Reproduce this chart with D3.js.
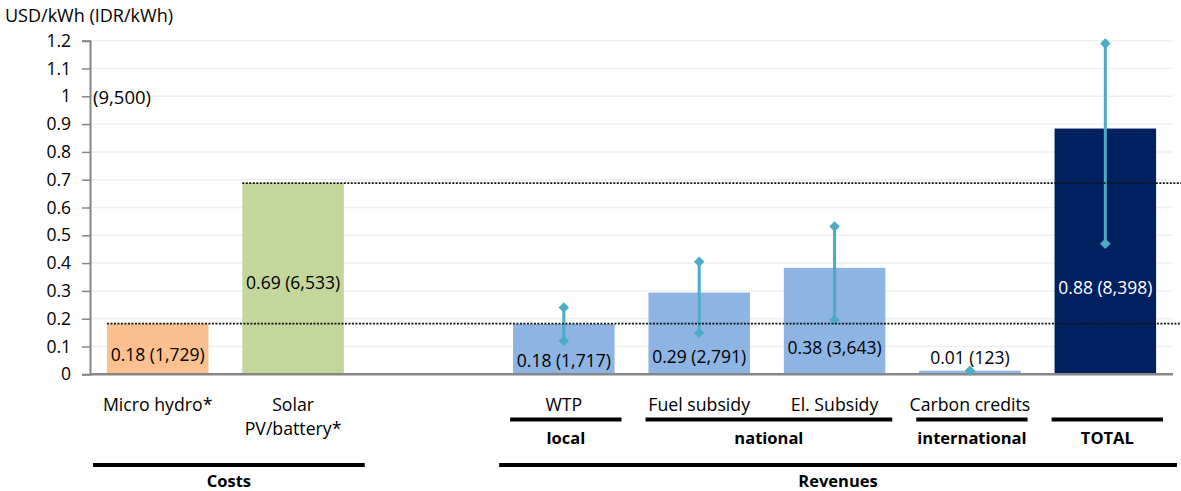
<!DOCTYPE html>
<html>
<head>
<meta charset="utf-8">
<script src="https://cdn.jsdelivr.net/npm/d3@7"></script>
<style>
  html, body { margin: 0; padding: 0; background: #fff; }
  svg { display: block; font-family: "Open Sans", "Lato", sans-serif; }
</style>
</head>
<body>
<svg id="chart" width="1181" height="491"></svg>
<script>
// ---- data ----
const categories = ["Micro hydro*", "Solar PV/battery*", "gap", "WTP", "Fuel subsidy", "El. Subsidy", "Carbon credits", "TOTAL"];
const categoryLabels = [["Micro hydro*"], ["Solar", "PV/battery*"], [], ["WTP"], ["Fuel subsidy"], ["El. Subsidy"], ["Carbon credits"], []];
const valuesUSD = [0.182, 0.688, null, 0.181, 0.294, 0.383, 0.013, 0.884];
const valuesIDR = [1729, 6533, null, 1717, 2791, 3643, 123, 8398];
const rangeLow  = [null, null, null, 0.12, 0.149, 0.195, 0.013, 0.47];
const rangeHigh = [null, null, null, 0.24, 0.405, 0.532, 0.013, 1.19];
const labelAt   = [0.072, 0.332, null, 0.05, 0.065, 0.10, 0.061, 0.314];
const yTicks = [0, 0.1, 0.2, 0.3, 0.4, 0.5, 0.6, 0.7, 0.8, 0.9, 1, 1.1, 1.2];
const subGroups = [
  {name: "local", from: 3, to: 3},
  {name: "national", from: 4, to: 5},
  {name: "international", from: 6, to: 6},
  {name: "TOTAL", from: 7, to: 7}
];
const mainGroups = [
  {name: "Costs", from: 0, to: 1},
  {name: "Revenues", from: 3, to: 7}
];
const refLines = [0, 1]; // reference dotted lines at values of these categories
const yTitle = "USD/kWh (IDR/kWh)";
const idrNote = "(9,500)";

// ---- styles ----
const barColors = ["#FAC090", "#C3D69B", "none", "#8DB4E2", "#8DB4E2", "#8DB4E2", "#8DB4E2", "#002060"];
const labelColors = ["#000", "#000", "#000", "#000", "#000", "#000", "#000", "#fff"];
const errColor = "#4BACC6";

(function () {
const svg = d3.select("#chart");
const pLeft = 90, pRight = 1173, pTop = 40.7, pBottom = 374.3;

const x = d3.scaleBand().domain(categories).range([pLeft, pRight]).paddingInner(0.25).paddingOuter(0.125);
const y = d3.scaleLinear().domain([0, 1.2]).range([pBottom, pTop]);
const step = x.step();
const slotStart = i => x(categories[i]) - x.paddingInner() * step / 2;
const slotEnd = i => slotStart(i) + step;

// gridlines
svg.append("g").selectAll("line").data(yTicks.filter(t => t > 0)).join("line")
  .attr("x1", pLeft).attr("x2", pRight)
  .attr("y1", d => y(d)).attr("y2", d => y(d))
  .attr("stroke", "#efefef").attr("stroke-width", 1.5);

// bars
const idx = d3.range(categories.length).filter(i => valuesUSD[i] != null);
svg.append("g").selectAll("rect").data(idx).join("rect")
  .attr("x", i => x(categories[i]))
  .attr("width", x.bandwidth())
  .attr("y", i => y(valuesUSD[i]))
  .attr("height", i => y(0) - y(valuesUSD[i]))
  .attr("fill", i => barColors[i]);

// y axis
const yAxis = d3.axisLeft(y).tickValues(yTicks).tickSize(8).tickPadding(11)
  .tickFormat(d => String(+d.toFixed(1)));
const ga = svg.append("g").attr("transform", `translate(${pLeft},0)`).call(yAxis);
ga.select(".domain").attr("stroke", "#868686").attr("stroke-width", 2);
ga.selectAll(".tick line").attr("stroke", "#868686").attr("stroke-width", 1.5);
ga.selectAll(".tick text").attr("fill", "#000").style("font-size", "17.5px").style("font-family", "'Open Sans', Lato, sans-serif");

// x axis baseline
svg.append("line").attr("x1", pLeft).attr("x2", pRight).attr("y1", y(0)).attr("y2", y(0))
  .attr("stroke", "#868686").attr("stroke-width", 2.5);

// error ranges
const eidx = idx.filter(i => rangeLow[i] != null);
const eg = svg.append("g");
eg.selectAll("line").data(eidx).join("line")
  .attr("x1", i => x(categories[i]) + x.bandwidth() / 2)
  .attr("x2", i => x(categories[i]) + x.bandwidth() / 2)
  .attr("y1", i => y(rangeLow[i])).attr("y2", i => y(rangeHigh[i]))
  .attr("stroke", errColor).attr("stroke-width", 3);
const diamond = d3.symbol().type(d3.symbolDiamond2).size(70);
const pts = [];
eidx.forEach(i => { pts.push([i, rangeLow[i]]); if (rangeHigh[i] !== rangeLow[i]) pts.push([i, rangeHigh[i]]); });
eg.selectAll("path").data(pts).join("path")
  .attr("d", diamond)
  .attr("transform", d => `translate(${x(categories[d[0]]) + x.bandwidth() / 2},${y(d[1])})`)
  .attr("fill", errColor);

// bar labels
const fmtIDR = d3.format(",");
svg.append("g").selectAll("text").data(idx).join("text")
  .attr("x", i => x(categories[i]) + x.bandwidth() / 2)
  .attr("y", i => y(labelAt[i]))
  .attr("text-anchor", "middle").attr("dominant-baseline", "central")
  .style("font-size", "17.5px").attr("fill", i => labelColors[i])
  .text(i => `${valuesUSD[i].toFixed(2)} (${fmtIDR(valuesIDR[i])})`);

// reference dotted lines
svg.append("g").selectAll("line").data(refLines).join("line")
  .attr("x1", i => x(categories[i])).attr("x2", 1181)
  .attr("y1", i => y(valuesUSD[i])).attr("y2", i => y(valuesUSD[i]))
  .attr("stroke", "#111").attr("stroke-width", 1.7).attr("stroke-dasharray", "2,1.5");

// category labels
const cg = svg.append("g");
categoryLabels.forEach((lines, i) => {
  lines.forEach((t, j) => {
    cg.append("text")
      .attr("x", x(categories[i]) + x.bandwidth() / 2)
      .attr("y", 404 + j * 24)
      .attr("text-anchor", "middle").attr("dominant-baseline", "central")
      .style("font-size", "17.7px").attr("fill", "#000").text(t);
  });
});

// sub-group lines & labels
subGroups.forEach(g => {
  const x1 = slotStart(g.from) + 14, x2 = slotEnd(g.to) - 10;
  svg.append("line").attr("x1", x1).attr("x2", x2).attr("y1", 419.5).attr("y2", 419.5)
    .attr("stroke", "#000").attr("stroke-width", 4);
  svg.append("text").attr("x", (x1 + x2) / 2).attr("y", 437.5)
    .attr("text-anchor", "middle").attr("dominant-baseline", "central")
    .style("font-size", "16.5px").style("font-weight", "bold").text(g.name);
});

// main group lines & labels
mainGroups.forEach(g => {
  const x1 = slotStart(g.from) + 3, x2 = slotEnd(g.to) + 4;
  svg.append("line").attr("x1", x1).attr("x2", x2).attr("y1", 465).attr("y2", 465)
    .attr("stroke", "#000").attr("stroke-width", 4);
  svg.append("text").attr("x", (x1 + x2) / 2).attr("y", 480)
    .attr("text-anchor", "middle").attr("dominant-baseline", "central")
    .style("font-size", "16.5px").style("font-weight", "bold").text(g.name);
});

// axis title and note
svg.append("text").attr("x", 5).attr("y", 15).attr("dominant-baseline", "central")
  .style("font-size", "18px").text(yTitle);
svg.append("text").attr("x", 93).attr("y", y(1)).attr("dominant-baseline", "central")
  .style("font-size", "18.5px").text(idrNote);
})();
</script>
</body>
</html>
